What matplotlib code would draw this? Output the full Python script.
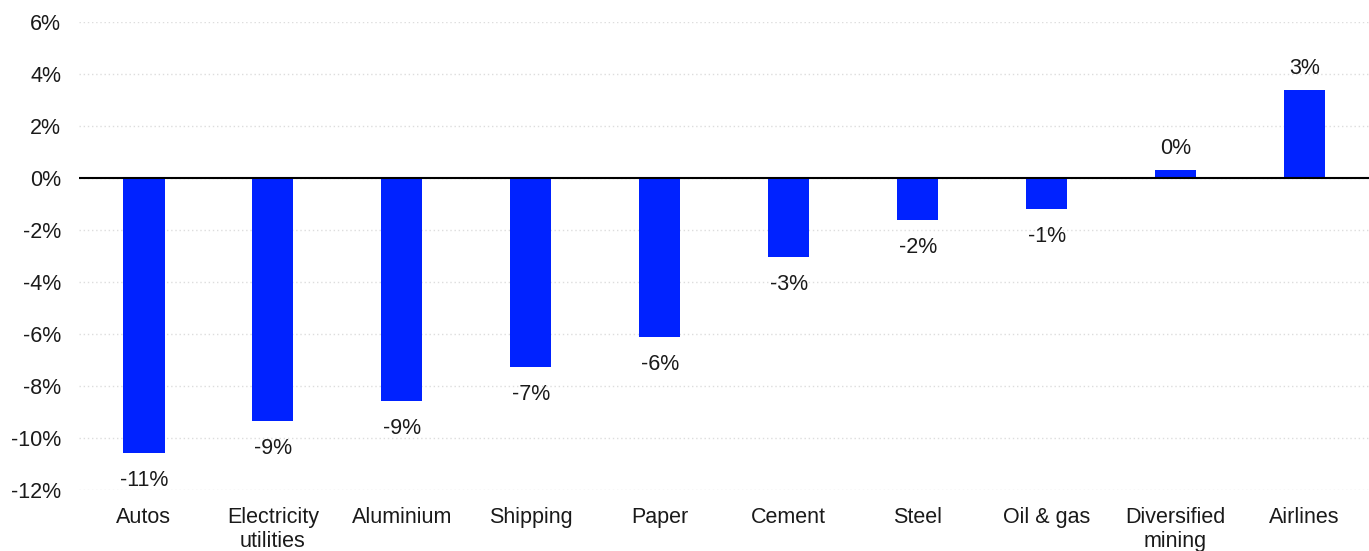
import numpy as np
import matplotlib.pyplot as plt

plt.rcParams['font.family'] = ['Liberation Sans', 'DejaVu Sans']

sectors = ["Autos", "Electricity\nutilities", "Aluminium", "Shipping", "Paper",
           "Cement", "Steel", "Oil & gas", "Diversified\nmining", "Airlines"]
change = [-10.6, -9.35, -8.58, -7.27, -6.12, -3.04, -1.62, -1.19, 0.31, 3.38]

fig = plt.figure(figsize=(13.69, 5.51), dpi=100)
ax = fig.add_axes([0.058, 0.111, 0.942, 0.849])

x = np.arange(len(sectors))
ax.bar(x, change, width=0.32, color="#0022ff", zorder=3)

for xi, v in zip(x, change):
    if v >= 0:
        ax.annotate(f"{v:.0f}%", (xi, v), xytext=(0, 8), textcoords="offset points",
                    ha="center", va="bottom", fontsize=15.5, color="#1a1a1a")
    else:
        ax.annotate(f"{round(v):.0f}%", (xi, v), xytext=(0, -12), textcoords="offset points",
                    ha="center", va="top", fontsize=15.5, color="#1a1a1a")

ax.axhline(0, color="black", lw=1.5, zorder=4)
ax.set_xlim(-0.5, len(sectors) - 0.5)
ax.set_ylim(-12, 6)
ax.set_yticks(np.arange(-12, 7, 2))
ax.set_yticklabels([f"{t}%" for t in range(-12, 7, 2)])
ax.set_xticks(x)
ax.set_xticklabels(sectors, linespacing=1.2)
ax.tick_params(length=0, labelsize=15.5, colors="#1a1a1a")
ax.tick_params(axis="x", pad=12)
ax.tick_params(axis="y", pad=13)
ax.grid(axis="y", color="#dddddd", linestyle=(0, (1, 2)), lw=1, zorder=0)
for s in ax.spines.values():
    s.set_visible(False)

fig.savefig("out.png", dpi=100)
